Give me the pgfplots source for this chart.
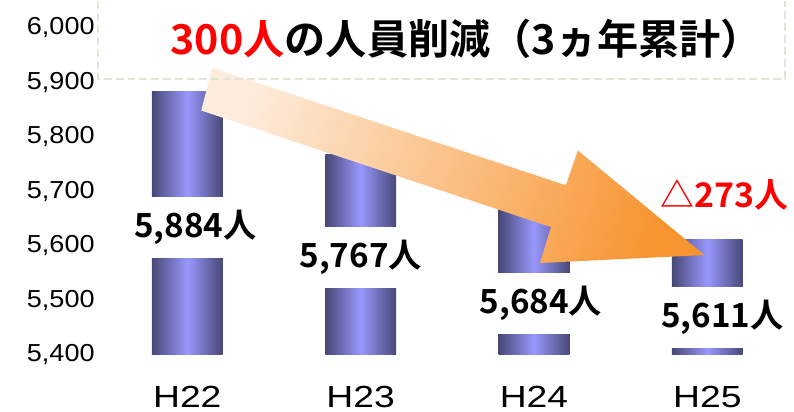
\documentclass[border=0pt]{standalone}
\usepackage{fontspec}
\setmainfont{Liberation Sans}
\newfontfamily\wide{Liberation Sans}[FakeStretch=1.22]
\newfontfamily\tickfont{Liberation Sans}[FakeStretch=1.1]
\newfontfamily\jp{Noto Sans CJK JP}[BoldFont={Noto Sans CJK JP Bold}]
\usepackage{pgfplots}
\pgfplotsset{compat=1.18}

\definecolor{barD}{RGB}{72,72,120}
\definecolor{barL}{RGB}{152,152,252}
\definecolor{arrL}{RGB}{253,236,220}
\definecolor{arrD}{RGB}{248,148,48}
\definecolor{boxc}{RGB}{230,228,216}

\begin{document}
\begin{tikzpicture}
% pixel frame of the reference (794 x 407)
\begin{scope}[x=0.75pt,y=-0.75pt,xshift=-75.75pt,yshift=262.5pt]
  \path[use as bounding box] (0,0) rectangle (794,407);
\end{scope}

\begin{axis}[
    scale only axis,
    width=522pt, height=246pt,
    xmin=-0.5, xmax=3.5,
    ymin=5400, ymax=6000,
    ytick={5400,5500,...,6000},
    xtick={0,1,2,3},
    xticklabels={H22, H23, H24, H25},
    axis line style={draw=none},
    major tick style={draw=none},
    /pgf/number format/assume math mode=true,
    /pgf/number format/1000 sep={,},
    yticklabel style={font=\tickfont\fontsize{18.5}{18.5}\selectfont, xshift=-1pt},
    xticklabel style={font=\wide\fontsize{23}{23}\selectfont, yshift=-20pt},
    bar/.style={ybar, bar width=0.408, bar shift=0pt, draw=none,
      left color=barD, right color=barD, middle color=barL},
  ]
  % one plot per bar so that each bar gets its own shading
  \addplot[bar] coordinates {(0,5884)};
  \addplot[bar] coordinates {(1,5767)};
  \addplot[bar] coordinates {(2,5684)};
  \addplot[bar] coordinates {(3,5611)};

  \tikzset{lbl/.style={fill=white, minimum height=45.75pt, inner xsep=2pt,
      font=\jp\bfseries\fontsize{25}{25}\selectfont}}
  \node[lbl] at (axis cs:0.046,5633) {5,884人};
  \node[lbl] at (axis cs:1.0,5578) {5,767人};
  \node[lbl] at (axis cs:2.04,5494) {5,684人};
  \node[lbl] at (axis cs:3.086,5468) {5,611人};
  \node[text=red, font=\jp\bfseries\fontsize{25.5}{25.5}\selectfont]
    at (axis cs:3.10,5693) {△273人};
\end{axis}

\begin{scope}[x=0.75pt,y=-0.75pt,xshift=-75.75pt,yshift=262.5pt]
  \shade[left color=arrL, right color=arrD, shading angle=72]
    (213,62) -- (568,180) -- (580,145) -- (707,250) -- (542,258)
    -- (553,222) -- (202,105) -- cycle;
  \draw[boxc, line width=1.5pt, dash pattern=on 6pt off 3pt]
    (98,-5) -- (98,73) -- (788,73) -- (788,-5);
  \node[font=\jp\bfseries\fontsize{31}{31}\selectfont] at (468,33)
    {\textcolor{red}{300人}の人員削減（3ヵ年累計）};
\end{scope}
\end{tikzpicture}
\end{document}
